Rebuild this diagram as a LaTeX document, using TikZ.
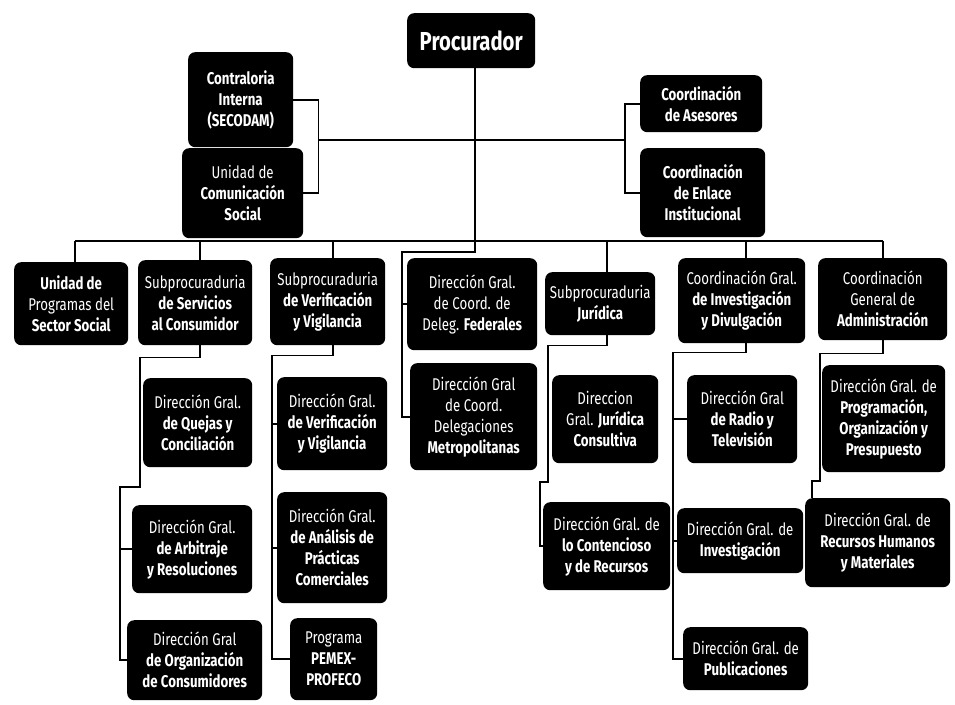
\documentclass[tikz,border=0pt]{standalone}
\usepackage{fontspec}
\setmainfont{Fira Sans}[FakeStretch=0.78]
\begin{document}
\begin{tikzpicture}[x=1pt,y=-1pt,
  box/.style={fill=black,text=white,rounded corners=7pt,inner sep=0pt,align=center,anchor=north west,font=\fontsize{17}{21}\selectfont},
  link/.style={line width=1.8pt,draw=black}]
\useasboundingbox (0,0) rectangle (955,704);
\fill[white] (0,0) rectangle (955,704);

\coordinate (busY) at (0,241);
\coordinate (midL) at (318,140);
\coordinate (midR) at (625,140);

% ---------- boxes ----------
\node[box,minimum width=128pt,minimum height=55pt,font=\fontsize{26}{28}\selectfont\bfseries] (proc) at (407,13) {Procurador};
\node[box,minimum width=105pt,minimum height=95pt] (contra) at (188,52) {\textbf{Contraloria}\\\textbf{Interna}\\\textbf{(SECODAM)}};
\node[box,minimum width=121pt,minimum height=90pt] (ucs) at (182,148) {Unidad de\\\textbf{Comunicación}\\\textbf{Social}};
\node[box,minimum width=122pt,minimum height=57pt] (ases) at (640,75) {\textbf{Coordinación}\\\textbf{de Asesores}};
\node[box,minimum width=125pt,minimum height=89pt] (enlace) at (640,148) {\textbf{Coordinación}\\\textbf{de Enlace}\\\textbf{Institucional}};

\node[box,minimum width=114pt,minimum height=83pt] (ups) at (14,262) {\textbf{Unidad de}\\Programas del\\\textbf{Sector Social}};
\node[box,minimum width=114pt,minimum height=85pt] (sserv) at (138,260) {Subprocuraduria\\\textbf{de Servicios}\\\textbf{al Consumidor}};
\node[box,minimum width=115pt,minimum height=87pt] (sverif) at (270,258) {Subprocuraduria\\\textbf{de Verificación}\\\textbf{y Vigilancia}};
\node[box,minimum width=130pt,minimum height=92pt] (dfed) at (407,258) {Dirección Gral.\\de Coord. de\\Deleg. \textbf{Federales}};
\node[box,minimum width=110pt,minimum height=63pt] (sjur) at (545,272) {Subprocuraduria\\\textbf{Jurídica}};
\node[box,minimum width=127pt,minimum height=85pt] (cinv) at (678,258) {Coordinación Gral.\\\textbf{de Investigación}\\\textbf{y Divulgación}};
\node[box,minimum width=129pt,minimum height=82pt] (cadm) at (818,258) {Coordinación\\General de\\\textbf{Administración}};

\node[box,minimum width=109pt,minimum height=89pt] (quejas) at (143,378) {Dirección Gral.\\\textbf{de Quejas y}\\\textbf{Conciliación}};
\node[box,minimum width=120pt,minimum height=88pt] (arbit) at (132,505) {Dirección Gral.\\\textbf{de Arbitraje}\\\textbf{y Resoluciones}};
\node[box,minimum width=135pt,minimum height=80pt] (organiz) at (127,620) {Dirección Gral\\\textbf{de Organización}\\\textbf{de Consumidores}};
\node[box,minimum width=110pt,minimum height=93pt] (dverif) at (277,377) {Dirección Gral.\\\textbf{de Verificación}\\\textbf{y Vigilancia}};
\node[box,minimum width=110pt,minimum height=111pt] (analisis) at (277,492) {Dirección Gral.\\\textbf{de Análisis de}\\\textbf{Prácticas}\\\textbf{Comerciales}};
\node[box,minimum width=87pt,minimum height=82pt] (pemex) at (290,618) {Programa\\\textbf{PEMEX-}\\\textbf{PROFECO}};
\node[box,minimum width=127pt,minimum height=107pt] (metro) at (410,363) {Dirección Gral\\de Coord.\\Delegaciones\\\textbf{Metropolitanas}};
\node[box,minimum width=106pt,minimum height=88pt] (jurcons) at (552,375) {Direccion\\Gral. \textbf{Jurídica}\\\textbf{Consultiva}};
\node[box,minimum width=127pt,minimum height=88pt] (contenc) at (543,502) {Dirección Gral. de\\\textbf{lo Contencioso}\\\textbf{y de Recursos}};
\node[box,minimum width=110pt,minimum height=88pt] (radio) at (687,375) {Dirección Gral\\\textbf{de Radio y}\\\textbf{Televisión}};
\node[box,minimum width=126pt,minimum height=65pt] (dinv) at (677,508) {Dirección Gral. de\\\textbf{Investigación}};
\node[box,minimum width=125pt,minimum height=63pt] (public) at (683,627) {Dirección Gral. de\\\textbf{Publicaciones}};
\node[box,minimum width=123pt,minimum height=107pt] (prog) at (822,365) {Dirección Gral. de\\\textbf{Programación,}\\\textbf{Organización y}\\\textbf{Presupuesto}};
\node[box,minimum width=145pt,minimum height=89pt] (rrhh) at (805,498) {Dirección Gral. de\\\textbf{Recursos Humanos}\\\textbf{y Materiales}};

% ---------- connectors ----------
\draw[link] ([xshift=4pt]proc.south) -- ([xshift=4pt]proc.south |- busY);
\draw[link] (midL) -- (midR);
\draw[link] (contra.east) -- ++(25,0) |- (ucs.east);
\draw[link] (ases.west) -- ++(-15,0) |- (enlace.west);
\draw[link] ([xshift=4pt]ups.north |- busY) -- (cadm.north |- busY);
\draw[link] ([xshift=4pt]ups.north) -- ([xshift=4pt]ups.north |- busY);
\draw[link] ([xshift=5pt]sserv.north) -- ([xshift=5pt]sserv.north |- busY);
\draw[link] ([xshift=5pt]sverif.north) -- ([xshift=5pt]sverif.north |- busY);
\draw[link] ([xshift=7pt]sjur.north) -- ([xshift=7pt]sjur.north |- busY);
\draw[link] ([xshift=4pt]cinv.north) -- ([xshift=4pt]cinv.north |- busY);
\draw[link] (cadm.north) -- (cadm.north |- busY);

% Deleg. Federales branch
\draw[link] ([xshift=4pt]proc.south |- busY) -- ++(0,11) -| ([xshift=-8pt]metro.west) -- (metro.west);
\draw[link] (dfed.west) -- ++(-5,0);

% Servicios al Consumidor branch
\draw[link] ([xshift=5pt]sserv.south) -- ++(0,12) -| ([xshift=-3pt]quejas.west) -- ++(0,64) -| ([xshift=-7pt]organiz.west) -- (organiz.west);
\draw[link] (arbit.west) -- ++(-12,0);

% Verificacion branch
\draw[link] ([xshift=5pt]sverif.south) -- ++(0,10) -| ([xshift=-18pt]pemex.west) -- (pemex.west);
\draw[link] (dverif.west) -- ++(-5,0);
\draw[link] (analisis.west) -- ++(-5,0);

% Juridica branch
\draw[link] ([xshift=7pt]sjur.south) -- ++(0,10) -| ([xshift=-4pt]jurcons.west) -- ++(0,63) -| ([xshift=-3pt]contenc.west) -- (contenc.west);

% Investigacion branch
\draw[link] ([xshift=4pt]cinv.south) -- ++(0,9) -| ([xshift=-10pt]public.west) -- (public.west);
\draw[link] (radio.west) -- ++(-14,0);
\draw[link] (dinv.west) -- ++(-4,0);

% Administracion branch
\draw[link] (cadm.south) -- ++(0,13) -| ([xshift=-2pt]prog.west) -- ++(0,62) -| ([xshift=7pt]rrhh.north west);
\end{tikzpicture}
\end{document}
